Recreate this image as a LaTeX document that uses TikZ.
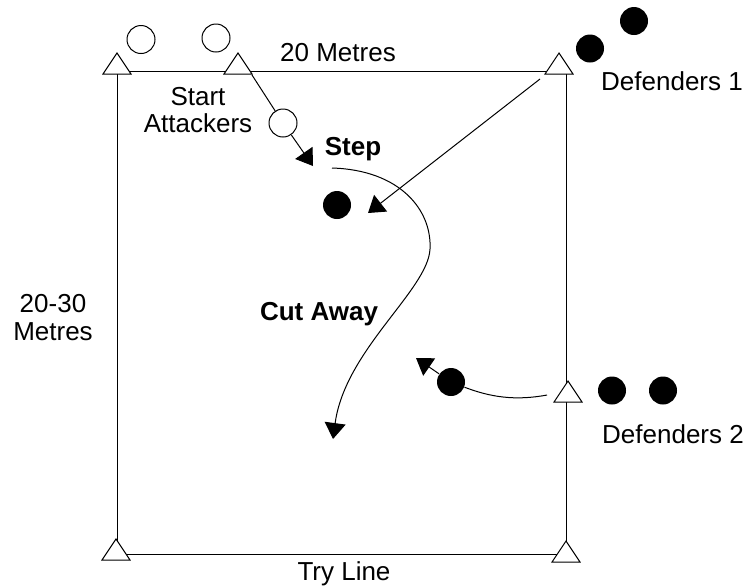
\documentclass[tikz,border=0pt]{standalone}
\usepackage{fontspec}
\setmainfont{Liberation Sans}
\usetikzlibrary{arrows.meta}
\tikzset{
  lbl/.style={font=\fontsize{13}{14}\selectfont, inner sep=0pt, anchor=base},
  blbl/.style={lbl, font=\fontsize{13}{14}\selectfont\bfseries},
  att/.style={circle, draw, fill=white, minimum size=14pt, inner sep=0pt, line width=0.5pt},
  def/.style={circle, fill=black, minimum size=14pt, inner sep=0pt},
  arr/.style={line width=0.5pt, -{Triangle[length=8pt,width=10.5pt]}},
  thinline/.style={line width=0.5pt},
  cone/.pic={\draw[fill=white, line width=0.5pt] (-14,10.5) -- (14,10.5) -- (0,-10.5) -- cycle;}
}
\begin{document}
\begin{tikzpicture}[x=0.5pt, y=-0.5pt]
\useasboundingbox (0,0) rectangle (748,586);
% field
\draw[thinline] (117,71) -- (566,71) -- (566,554) -- (117,554) -- cycle;
% cones
\pic (cTL) at (117,63.5) {cone};
\pic (cTM) at (238,63.5) {cone};
\pic (cTR) at (559,63.5) {cone};
\pic (cMR) at (568,391.5) {cone};
\pic (cBR) at (566,551.5) {cone};
\pic (cBL) at (116,549.5) {cone};
% attackers
\node[att] (A1) at (141,39.5) {};
\node[att] (A2) at (216,38) {};
\node[att] (A3) at (283,123) {};
\coordinate (a0) at (252,75);
\coordinate (stepTip) at (313,166);
\draw[thinline] (a0) -- (A3);
\draw[arr] (A3) -- (stepTip);
% defenders
\node[def] (D1a) at (590,48.5) {};
\node[def] (D1b) at (634,21) {};
\node[def] (Dm) at (337,205) {};
\node[def] (D2a) at (612,390.5) {};
\node[def] (D2b) at (663,390.5) {};
\node[def] (D2m) at (451,382) {};
% defender 1 run
\coordinate (d1start) at (540,79);
\coordinate (d1tip) at (368,213);
\draw[arr] (d1start) -- (d1tip);
% cut away run
\coordinate (cutStart) at (332,168);
\coordinate (cutMid) at (430,249);
\coordinate (cutTip) at (333,439);
\draw[arr] (cutStart) .. controls (400,170) and (432,210) .. (cutMid)
  .. controls (428,290) and (345,350) .. (cutTip);
% defender 2 run
\coordinate (d2start) at (547,395);
\coordinate (d2tip) at (416,358);
\draw[thinline] (d2start) .. controls (515,401) and (490,397) .. (D2m);
\draw[arr] (D2m) -- (d2tip);
% labels
\node[lbl] (t20) at (338,61) {20 Metres};
\node[lbl, align=center, font=\fontsize{13}{13.5}\selectfont] (tStart) at (198,132) {Start\\Attackers};
\node[blbl] (tStep) at (353,155) {Step};
\node[lbl] (tD1) at (672,90) {Defenders 1};
\node[lbl, align=center] (tSide) at (53,340) {20-30\\Metres};
\node[blbl] (tCut) at (319,320) {Cut Away};
\node[lbl] (tD2) at (673,443) {Defenders 2};
\node[lbl] (tTry) at (344,580) {Try Line};
\end{tikzpicture}
\end{document}
